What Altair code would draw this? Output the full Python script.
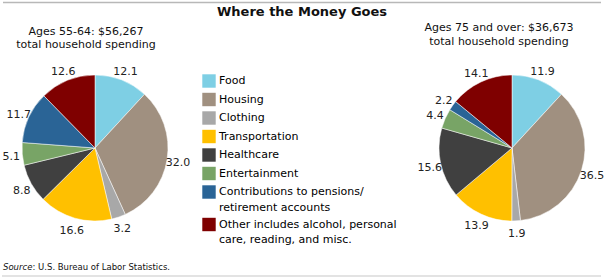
import altair as alt
import pandas as pd

# ---------------- data ----------------
CATEGORIES = [
    "Food",
    "Housing",
    "Clothing",
    "Transportation",
    "Healthcare",
    "Entertainment",
    "Contributions to pensions/retirement accounts",
    "Other includes alcohol, personal care, reading, and misc.",
]
LEGEND_LINES = [
    ["Food"],
    ["Housing"],
    ["Clothing"],
    ["Transportation"],
    ["Healthcare"],
    ["Entertainment"],
    ["Contributions to pensions/", "retirement accounts"],
    ["Other includes alcohol, personal", "care, reading, and misc."],
]
COLORS = ["#7ecfe4", "#a09080", "#a8a8a8", "#ffc000", "#404040", "#78a466", "#2a6496", "#7f0000"]

AGES_55_64 = [12.1, 32.0, 3.2, 16.6, 8.8, 5.1, 11.7, 12.6]
AGES_75_PLUS = [11.9, 36.5, 1.9, 13.9, 15.6, 4.4, 2.2, 14.1]

TITLE = "Where the Money Goes"
LEFT_SUB = ["Ages 55-64: $56,267", "total household spending"]
RIGHT_SUB = ["Ages 75 and over: $36,673", "total household spending"]
SOURCE_LABEL = "Source"
SOURCE_TEXT = ": U.S. Bureau of Labor Statistics."

FONT = "DejaVu Sans"

left_df = pd.DataFrame({"cat": CATEGORIES, "value": AGES_55_64, "idx": range(len(CATEGORIES))})
right_df = pd.DataFrame({"cat": CATEGORIES, "value": AGES_75_PLUS, "idx": range(len(CATEGORIES))})
one = pd.DataFrame({"k": [0]})

# legend label expression (multi-line labels)
expr = "datum.label"
for cat, lines in reversed(list(zip(CATEGORIES, LEGEND_LINES))):
    if len(lines) > 1:
        arr = "[" + ", ".join("'" + l + "'" for l in lines) + "]"
        expr = f"datum.label == '{cat}' ? {arr} : ({expr})"

color = alt.Color(
    "cat:N",
    scale=alt.Scale(domain=CATEGORIES, range=COLORS),
    legend=alt.Legend(
        orient="none",
        legendX=202,
        legendY=74,
        title=None,
        symbolType="square",
        symbolSize=180,
        symbolStrokeWidth=0,
        symbolOpacity=1,
        labelFont=FONT,
        labelFontSize=11,
        labelColor="#000",
        labelLimit=500,
        labelOffset=3,
        rowPadding=4.5,
        padding=0,
        labelExpr=expr,
    ),
)


def pie(df, cx, cy):
    arc = alt.Chart(df).mark_arc(outerRadius=73, stroke="#ffffff", strokeWidth=0.5).encode(
        theta=alt.Theta("value:Q", stack=True),
        order=alt.Order("idx:Q"),
        color=color,
        x=alt.value(cx),
        y=alt.value(cy),
    )
    txt = alt.Chart(df).mark_text(radius=84, dy=2, font=FONT, fontSize=11, color="#222").encode(
        theta=alt.Theta("value:Q", stack=True),
        order=alt.Order("idx:Q"),
        detail="cat:N",
        text=alt.Text("value:Q", format=".1f"),
        x=alt.value(cx),
        y=alt.value(cy),
    )
    return arc, txt


l_arc, l_txt = pie(left_df, 95, 148)
r_arc, r_txt = pie(right_df, 512, 148)

top_rule = alt.Chart(one).mark_rule(color="#b8b8b8", strokeWidth=1.5).encode(
    x=alt.value(3), x2=alt.value(601), y=alt.value(2.5)
)
bot_rule = alt.Chart(one).mark_rule(color="#c8c8c8", strokeWidth=1.2).encode(
    x=alt.value(2), x2=alt.value(601), y=alt.value(276)
)

title = alt.Chart(one).mark_text(
    text=TITLE, font=FONT, fontSize=13, fontWeight="bold", color="#111"
).encode(x=alt.value(302), y=alt.value(12))


def text_line(s, x, y, size=11, **kw):
    return alt.Chart(one).mark_text(text=s, font=FONT, fontSize=size, color="#111", **kw).encode(
        x=alt.value(x), y=alt.value(y)
    )


subs = [
    text_line(LEFT_SUB[0], 86, 32),
    text_line(LEFT_SUB[1], 86, 45),
    text_line(RIGHT_SUB[0], 499, 28),
    text_line(RIGHT_SUB[1], 499, 42),
]

src1 = text_line(SOURCE_LABEL, 3, 267, size=8.5, fontStyle="italic", align="left")
src2 = text_line(SOURCE_TEXT, 32.5, 267, size=8.5, align="left")

chart = (
    alt.layer(top_rule, bot_rule, title, *subs, l_arc, l_txt, r_arc, r_txt, src1, src2)
    .resolve_scale(theta="independent")
    .properties(width=605, height=280, padding=0, autosize=alt.AutoSizeParams(type="none"))
    .configure(
        background="white",
        view=alt.ViewConfig(stroke=None),
        style={"guide-label": {"lineHeight": 15.5}},
    )
)

chart.save("out.html", embed_options={"renderer": "svg", "actions": False})
